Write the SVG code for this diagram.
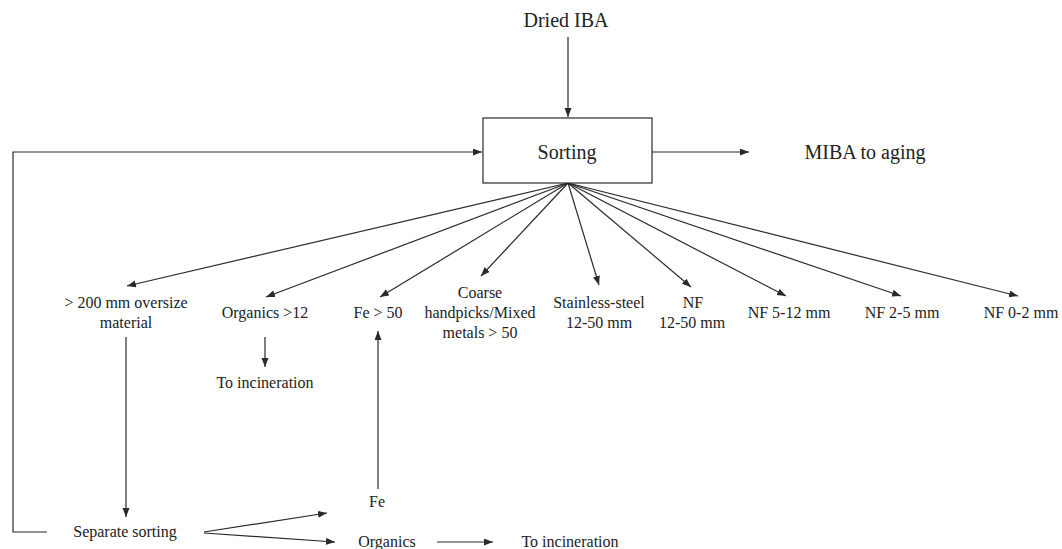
<svg xmlns="http://www.w3.org/2000/svg" width="1062" height="549" viewBox="0 0 1062 549">
  <defs>
    <marker id="arrow" markerUnits="userSpaceOnUse" markerWidth="10" markerHeight="8" refX="9" refY="3.5" orient="auto">
      <path d="M0,0 L9,3.5 L0,7 z" fill="#2a2a2a"/>
    </marker>
    <style>
      text { font-family: "Liberation Serif", "Times New Roman", Times, "DejaVu Serif", serif; fill: #222; text-anchor: middle; }
      .big { font-size: 20px; }
      .sm { font-size: 16px; }
      .ln { stroke: #2a2a2a; stroke-width: 1.2; fill: none; }
      .ar { stroke: #2a2a2a; stroke-width: 1.2; fill: none; marker-end: url(#arrow); }
    </style>
  </defs>
  <rect width="1062" height="549" fill="#ffffff"/>

  <!-- connectors -->
  <g id="connectors">
    <!-- input and output of the sorting step -->
    <line class="ar" x1="568" y1="37" x2="568" y2="117"/>
    <line class="ar" x1="652" y1="152" x2="749" y2="152"/>
    <!-- return loop from separate sorting -->
    <polyline class="ar" points="47,532 13,532 13,152 482,152"/>
    <!-- fan-out from the sorting box -->
    <line class="ar" x1="568" y1="183" x2="127" y2="286"/>
    <line class="ar" x1="568" y1="183" x2="266" y2="297"/>
    <line class="ar" x1="568" y1="183" x2="380" y2="297"/>
    <line class="ar" x1="568" y1="183" x2="481" y2="276"/>
    <line class="ar" x1="568" y1="183" x2="599" y2="285"/>
    <line class="ar" x1="568" y1="183" x2="691" y2="287"/>
    <line class="ar" x1="568" y1="183" x2="786" y2="296"/>
    <line class="ar" x1="568" y1="183" x2="901" y2="296"/>
    <line class="ar" x1="568" y1="183" x2="1018" y2="296"/>
    <!-- secondary flows -->
    <line class="ar" x1="265" y1="337" x2="265" y2="367"/>
    <line class="ar" x1="126" y1="337" x2="126" y2="517"/>
    <line class="ar" x1="378" y1="489" x2="378" y2="331"/>
    <line class="ar" x1="204" y1="532" x2="327" y2="513"/>
    <line class="ar" x1="204" y1="533" x2="335" y2="542"/>
    <line class="ar" x1="437" y1="542" x2="493" y2="542"/>
  </g>

  <g id="dried-iba">
    <text class="big" x="566" y="27">Dried IBA</text>
  </g>

  <g id="sorting">
    <rect x="483" y="118" width="169" height="65" fill="#ffffff" stroke="#2a2a2a" stroke-width="1.2"/>
    <text class="big" x="567" y="159">Sorting</text>
  </g>

  <g id="miba-to-aging">
    <text class="big" x="865" y="159">MIBA to aging</text>
  </g>

  <g id="oversize">
    <text class="sm" x="126" y="308">&gt; 200 mm oversize</text>
    <text class="sm" x="126" y="328">material</text>
  </g>

  <g id="organics-12">
    <text class="sm" x="265" y="318">Organics &gt;12</text>
  </g>

  <g id="to-incineration-1">
    <text class="sm" x="265" y="388">To incineration</text>
  </g>

  <g id="fe-50">
    <text class="sm" x="378" y="318">Fe &gt; 50</text>
  </g>

  <g id="coarse">
    <text class="sm" x="480" y="298">Coarse</text>
    <text class="sm" x="480" y="318">handpicks/Mixed</text>
    <text class="sm" x="480" y="338">metals &gt; 50</text>
  </g>

  <g id="stainless">
    <text class="sm" x="599" y="308">Stainless-steel</text>
    <text class="sm" x="599" y="328">12-50 mm</text>
  </g>

  <g id="nf-12-50">
    <text class="sm" x="693" y="308">NF</text>
    <text class="sm" x="692" y="328">12-50 mm</text>
  </g>

  <g id="nf-5-12">
    <text class="sm" x="789" y="318">NF 5-12 mm</text>
  </g>

  <g id="nf-2-5">
    <text class="sm" x="902" y="318">NF 2-5 mm</text>
  </g>

  <g id="nf-0-2">
    <text class="sm" x="1021" y="318">NF 0-2 mm</text>
  </g>

  <g id="separate-sorting">
    <text class="sm" x="125" y="537">Separate sorting</text>
  </g>

  <g id="fe">
    <text class="sm" x="377" y="507">Fe</text>
  </g>

  <g id="organics">
    <text class="sm" x="387" y="547">Organics</text>
  </g>

  <g id="to-incineration-2">
    <text class="sm" x="570" y="547">To incineration</text>
  </g>
</svg>
